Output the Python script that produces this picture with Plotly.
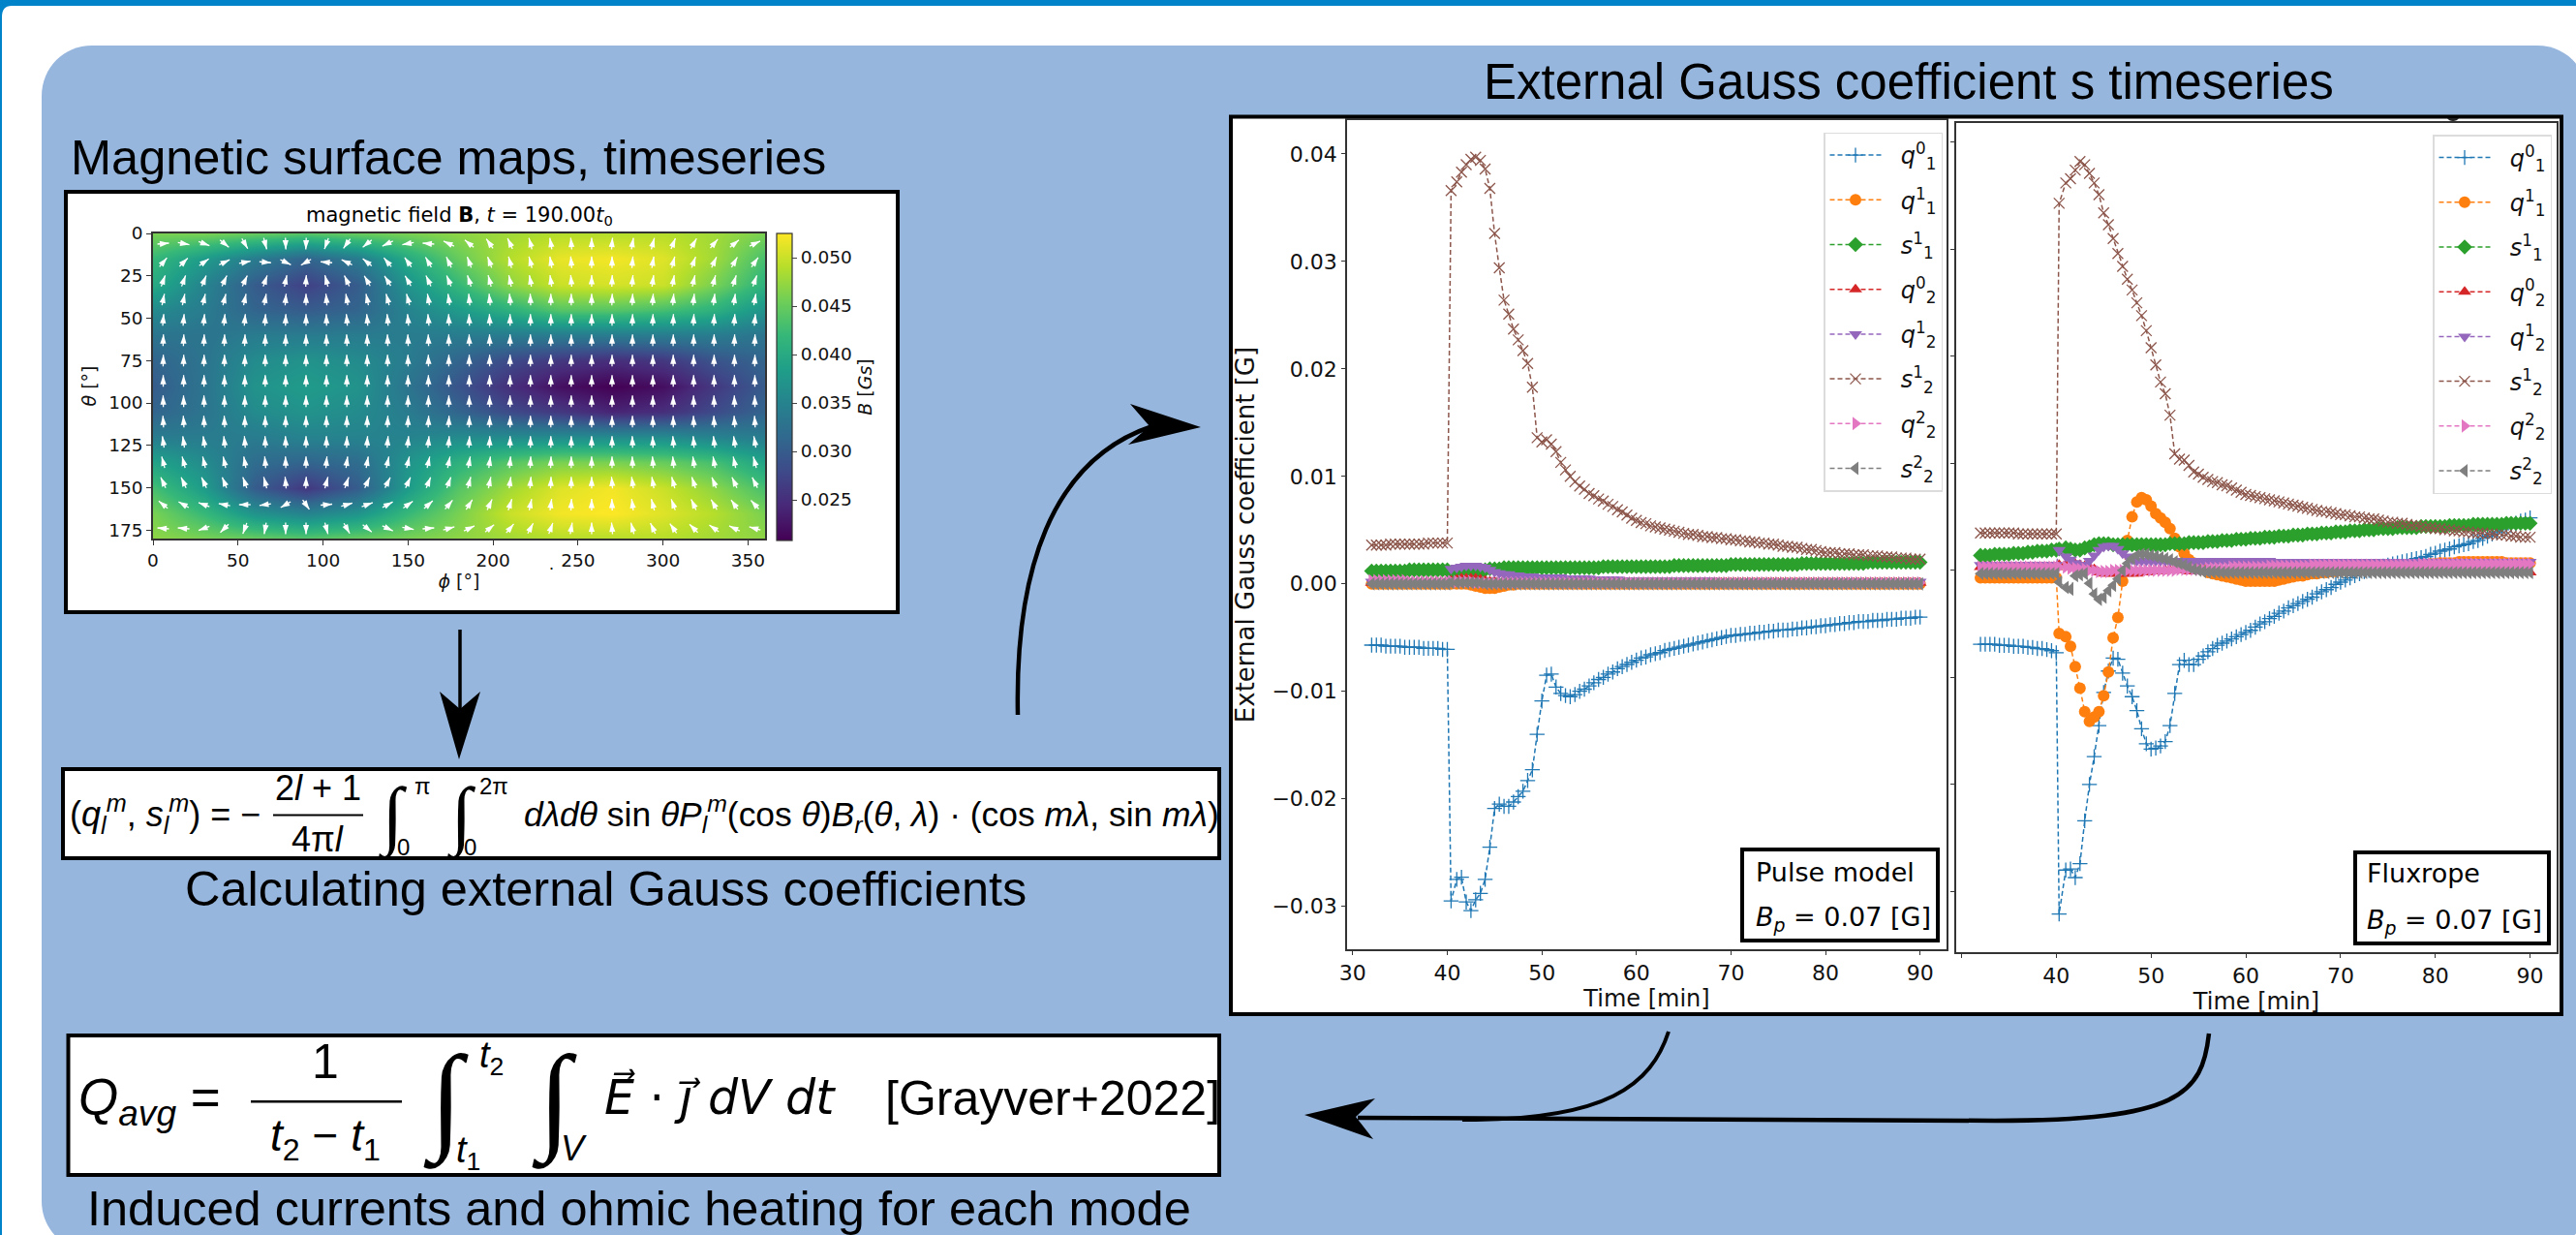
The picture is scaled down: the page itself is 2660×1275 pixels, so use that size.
import math, re
import numpy as np
import plotly.graph_objects as go

W, H = 2660, 1275

# ---------- surface map values (B in Gs) ----------
map_phi = [0, 30, 60, 90, 120, 150, 180, 210, 240, 270, 300, 330, 360]
map_theta = [0, 15, 30, 45, 60, 75, 90, 105, 120, 135, 150, 165, 180]
map_B = [
    [.046, .046, .045, .044, .045, .046, .047, .048, .049, .049, .049, .048, .046],
    [.042, .038, .034, .031, .034, .040, .045, .049, .0515, .052, .051, .048, .043],
    [.040, .035, .030, .027, .030, .037, .042, .047, .050, .0505, .050, .046, .041],
    [.036, .034, .031, .030, .031, .035, .038, .041, .044, .044, .043, .041, .037],
    [.033, .033, .034, .034, .034, .034, .034, .034, .034, .034, .034, .034, .033],
    [.031, .033, .036, .037, .036, .034, .031, .028, .026, .025, .026, .029, .031],
    [.030, .033, .037, .038, .037, .033, .029, .025, .022, .0208, .022, .026, .030],
    [.031, .033, .036, .037, .036, .034, .031, .028, .026, .024, .025, .028, .031],
    [.034, .034, .034, .035, .035, .035, .036, .036, .036, .036, .036, .035, .034],
    [.039, .036, .032, .031, .032, .037, .041, .044, .046, .046, .045, .043, .039],
    [.043, .038, .030, .026, .030, .038, .044, .048, .051, .052, .050, .047, .043],
    [.046, .042, .037, .035, .037, .042, .046, .050, .052, .0525, .051, .049, .046],
    [.047, .046, .045, .044, .045, .046, .047, .048, .049, .049, .049, .048, .047],
]
arrow_phi = [6, 18, 30, 42, 54, 66, 78, 90, 102, 114, 126, 138, 150, 162, 174,
             186, 198, 210, 222, 234, 246, 258, 270, 282, 294, 306, 318, 330, 342, 354]
arrow_theta = [6, 17, 28, 39, 51, 63, 75, 87, 99, 111, 123, 135, 147, 160, 174]
# arrow heading, degrees clockwise from "up", one row per theta
arrow_angle = [
    [85, 100, 110, 130, 150, 165, 178, 182, 200, 215, 230, 245, 260, 275, 295, 310, 325, 335, 345, 350, 355, 0, 5, 10, 15, 22, 30, 40, 50, 65],
    [40, 45, 55, 65, 80, 95, 115, 240, 275, 295, 310, 320, 325, 330, 335, 340, 340, 345, 345, 350, 355, 0, 0, 5, 10, 15, 20, 25, 30, 35],
    [20, 20, 22, 25, 25, 20, 12, 3, 345, 335, 330, 328, 330, 335, 338, 342, 345, 348, 350, 352, 355, 0, 2, 5, 8, 10, 13, 15, 18, 20],
    [12, 12, 13, 14, 12, 10, 5, 0, 355, 350, 348, 345, 345, 350, 352, 355, 355, 355, 358, 0, 0, 0, 2, 3, 4, 5, 6, 7, 8, 10],
    [5, 5, 5, 5, 5, 3, 2, 0, 358, 355, 355, 355, 355, 355, 358, 358, 358, 0, 0, 0, 0, 0, 0, 2, 2, 2, 3, 3, 4, 5],
    [2, 2, 2, 2, 2, 1, 1, 0, 359, 358, 358, 358, 358, 358, 359, 359, 359, 0, 0, 0, 0, 0, 0, 1, 1, 1, 1, 1, 2, 2],
    [1, 1, 1, 1, 1, 0, 0, 0, 0, 359, 359, 359, 359, 359, 0, 0, 0, 0, 0, 0, 0, 0, 0, 0, 0, 0, 1, 1, 1, 1],
    [0, 0, 0, 0, 0, 0, 0, 0, 0, 0, 0, 0, 0, 0, 0, 0, 0, 0, 0, 0, 0, 0, 0, 0, 0, 0, 0, 0, 0, 0],
    [359, 359, 359, 0, 0, 0, 0, 0, 0, 0, 0, 1, 1, 1, 0, 0, 0, 0, 0, 0, 0, 0, 0, 0, 0, 0, 359, 359, 359, 359],
    [357, 357, 358, 358, 359, 359, 0, 0, 0, 1, 1, 2, 2, 2, 2, 1, 1, 0, 0, 0, 0, 0, 0, 0, 359, 359, 358, 358, 357, 357],
    [352, 352, 352, 354, 356, 358, 358, 0, 0, 2, 3, 4, 5, 5, 4, 3, 2, 0, 0, 0, 0, 0, 0, 358, 358, 356, 356, 354, 352, 350],
    [345, 345, 347, 348, 350, 355, 358, 0, 5, 8, 10, 12, 13, 13, 12, 10, 8, 5, 3, 2, 0, 0, 0, 358, 356, 355, 352, 350, 348, 345],
    [335, 335, 335, 338, 340, 345, 355, 2, 15, 20, 25, 27, 25, 22, 20, 15, 12, 8, 5, 2, 0, 0, 355, 352, 350, 345, 342, 338, 335, 333],
    [310, 300, 290, 280, 270, 262, 240, 145, 85, 75, 70, 62, 55, 48, 40, 32, 25, 18, 12, 8, 3, 0, 358, 352, 345, 340, 335, 330, 325, 318],
    [275, 275, 250, 225, 200, 190, 180, 180, 165, 150, 130, 115, 100, 85, 75, 65, 50, 40, 28, 20, 10, 0, 355, 345, 335, 325, 315, 305, 295, 285],
]

# ---------- Gauss coefficient series, values in 10^-3 G ----------
series_names = ["q10", "q11", "s11", "q20", "q21", "s21", "q22", "s22"]
series_labels = ["<i>q</i><sup>0</sup><sub>1</sub>", "<i>q</i><sup>1</sup><sub>1</sub>", "<i>s</i><sup>1</sup><sub>1</sub>",
                 "<i>q</i><sup>0</sup><sub>2</sub>", "<i>q</i><sup>1</sup><sub>2</sub>", "<i>s</i><sup>1</sup><sub>2</sub>",
                 "<i>q</i><sup>2</sup><sub>2</sub>", "<i>s</i><sup>2</sup><sub>2</sub>"]
series_colors = ["#1f77b4", "#ff7f0e", "#2ca02c", "#d62728", "#9467bd", "#8c564b", "#e377c2", "#7f7f7f"]
series_symbols = ["cross-thin", "circle", "diamond", "triangle-up", "triangle-down", "x-thin", "triangle-right", "triangle-left"]
series_sizes = [11, 12, 12, 12, 12, 11, 12, 12]

time_left = [32 + 0.5 * i for i in range(117)]
time_left[17] = 40.4
time_right = [32 + 0.5 * i for i in range(117)]
time_right[17] = 40.3

pulse_q10 = [-5.7,-5.7,-5.7,-5.8,-5.8,-5.8,-5.8,-5.9,-5.9,-5.9,-5.9,-6.0,-6.0,-6.0,-6.0,-6.1,-6.1,
    -29.5,-27.5,-27.3,-29.6,-30.4,-29.4,-28.8,-27.5,-24.5,-20.9,-20.5,-20.7,-20.7,-20.3,-19.8,-19.3,-18.3,-17.3,-14.0,
    -10.9,-8.5,-8.4,-9.6,-10.2,-10.4,-10.5,-10.3,-10.0,-9.8,-9.5,-9.2,-8.9,-8.7,-8.4,-8.2,-7.9,-7.7,-7.5,-7.3,-7.1,
    -6.9,-6.8,-6.6,-6.5,-6.4,-6.2,-6.1,-6.0,-5.9,-5.8,-5.7,-5.6,-5.5,-5.4,-5.3,-5.2,-5.1,-5.0,-4.9,-4.8,
    -4.8,-4.7,-4.7,-4.6,-4.6,-4.5,-4.5,-4.4,-4.4,-4.3,-4.3,-4.3,-4.2,-4.2,-4.1,-4.1,-4.0,-4.0,-3.9,-3.9,
    -3.8,-3.8,-3.7,-3.7,-3.6,-3.6,-3.5,-3.5,-3.5,-3.4,-3.4,-3.4,-3.3,-3.3,-3.3,-3.2,-3.2,-3.2,-3.1,-3.1]
pulse_q11 = [0,0,0,0,0,0,0,0,0,0,0,0,0,0,0,0,0,
    0,0,0,0,-.1,-.2,-.3,-.4,-.4,-.4,-.3,-.2,-.1,-.1,0,0,0,0,0,
    0,0,0,0,0,0,0,0,0,0,0,0,0,0,0,0,0,0,0,0,0,
    0,0,0,0,0,0,0,0,0,0,0,0,0,0,0,0,0,0,0,0,
    0,0,0,0,0,0,0,0,0,0,0,0,0,0,0,0,0,0,0,0,
    0,0,0,0,0,0,0,0,0,0,0,0,0,0,0,0,0,0,0,0]
pulse_s11 = [1.2,1.2,1.2,1.2,1.2,1.2,1.2,1.2,1.3,1.3,1.3,1.3,1.3,1.3,1.3,1.3,1.3,
    1.0,1.0,1.0,1.0,1.0,1.0,1.1,1.3,1.4,1.4,1.4,1.5,1.5,1.5,1.5,1.5,1.5,1.5,1.5,
    1.5,1.5,1.5,1.5,1.5,1.5,1.5,1.5,1.5,1.5,1.5,1.5,1.5,1.6,1.6,1.6,1.6,1.6,1.6,1.6,1.6,
    1.6,1.6,1.6,1.6,1.6,1.6,1.6,1.7,1.7,1.7,1.7,1.7,1.7,1.7,1.7,1.7,1.7,1.7,1.7,1.8,
    1.8,1.8,1.8,1.8,1.8,1.8,1.8,1.8,1.8,1.8,1.8,1.8,1.8,1.8,1.9,1.9,1.9,1.9,1.9,1.9,
    1.9,1.9,1.9,1.9,1.9,1.9,1.9,1.9,2.0,2.0,2.0,2.0,2.0,2.0,2.0,2.0,2.0,2.0,2.0,2.0]
pulse_q20 = [.1,.1,.1,.1,.1,.1,.1,.1,.1,.1,.1,.1,.1,.1,.1,.1,.1,
    .3,.4,.5,.5,.5,.5,.4,.3,.2,.2,.1,.1,.1,.1,.1,.1,.1,.1,.1,
    .1,.1,.1,.1,.1,.1,.1,.1,.1,.1,.1,.1,.1,.1,.1,.1,.1,.1,.1,.1,.1,
    .1,.1,.1,.1,.1,.1,.1,.1,.1,.1,.1,.1,.1,.1,.1,.1,.1,.1,.1,.1,
    .1,.1,.1,.1,.1,.1,.1,.1,.1,.1,.1,.1,.1,.1,.1,.1,.1,.1,.1,.1,
    .1,.1,.1,.1,.1,.1,.1,.1,.1,.1,.1,.1,.1,.1,.1,.1,.1,.1,.1,.1]
pulse_q21 = [.2,.2,.2,.2,.2,.2,.2,.2,.2,.2,.2,.2,.2,.2,.2,.2,.2,
    1.4,1.5,1.6,1.7,1.7,1.7,1.6,1.5,1.3,1.1,1.0,.9,.9,.8,.8,.7,.7,.7,.6,
    .6,.6,.6,.6,.6,.5,.5,.5,.5,.5,.5,.4,.4,.4,.4,.4,.4,.3,.3,.3,.3,
    .3,.3,.3,.3,.3,.3,.3,.3,.3,.3,.3,.3,.3,.3,.3,.3,.2,.2,.2,.2,
    .2,.2,.2,.2,.2,.2,.2,.2,.2,.2,.2,.2,.2,.2,.2,.2,.2,.2,.2,.2,
    .2,.2,.2,.2,.2,.2,.2,.2,.2,.2,.2,.2,.2,.2,.2,.2,.2,.2,.2,.2]
pulse_s21 = [3.6,3.6,3.6,3.6,3.7,3.7,3.7,3.7,3.7,3.7,3.7,3.7,3.8,3.8,3.8,3.8,3.8,
    36.6,37.4,38.3,39.0,39.5,39.7,39.4,38.6,36.8,32.6,29.4,26.4,25.1,23.7,22.7,21.7,20.5,18.3,13.6,
    13.2,13.4,13.0,12.3,11.3,10.6,10.0,9.5,9.1,8.8,8.4,8.2,7.9,7.7,7.4,7.2,6.9,6.7,6.4,6.1,5.9,
    5.7,5.6,5.4,5.3,5.2,5.1,5.0,4.9,4.8,4.7,4.6,4.6,4.5,4.4,4.4,4.3,4.3,4.2,4.2,4.1,
    4.1,4.0,4.0,3.9,3.9,3.8,3.8,3.7,3.7,3.6,3.5,3.5,3.4,3.4,3.3,3.2,3.2,3.1,3.0,2.9,
    2.9,2.9,2.8,2.8,2.8,2.7,2.7,2.7,2.6,2.6,2.6,2.5,2.5,2.5,2.4,2.4,2.4,2.3,2.3,2.3]
pulse_q22 = [.3,.3,.3,.3,.3,.3,.3,.3,.2,.2,.2,.2,.2,.2,.2,.2,.2,
    .2,.2,.2,.2,.2,.1,.1,.1,.1,.1,.1,.1,.1,.1,.1,.1,.1,.1,.1,
    .1,.1,.1,.1,.1,.1,.1,.1,.1,.1,.1,.1,.1,.1,.1,.1,.1,.1,.1,.1,.1,
    .1,.1,.1,.1,.1,.1,.1,.1,.1,.1,.1,.1,.1,.1,.1,.1,.1,.1,.1,.1,
    .1,.1,.1,.1,.1,.1,.1,.1,.1,.1,.1,.1,.1,.1,.1,.1,.1,.1,.1,.1,
    .1,.1,.1,.1,.1,.1,.1,.1,.1,.1,.1,.1,.1,.1,.1,.1,.1,.1,.1,.1]
pulse_s22 = [0,0,0,0,0,0,0,0,0,0,0,0,0,0,0,0,0,
    .1,.1,.1,.1,.1,.1,.1,0,0,0,0,0,0,0,0,0,0,0,0,
    0,0,0,0,0,0,0,0,0,0,0,0,0,0,0,0,0,0,0,0,0,
    0,0,0,0,0,0,0,0,0,0,0,0,0,0,0,0,0,0,0,0,
    0,0,0,0,0,0,0,0,0,0,0,0,0,0,0,0,0,0,0,0,
    0,0,0,0,0,0,0,0,0,0,0,0,0,0,0,0,0,0,0,0]

rope_q10 = [-6.9,-6.9,-6.9,-6.9,-7.0,-7.0,-7.0,-7.1,-7.1,-7.1,-7.2,-7.2,-7.3,-7.3,-7.4,-7.5,-7.7,
    -32.1,-28.0,-27.9,-28.7,-27.4,-23.4,-20.0,-17.4,-14.5,-11.4,-9.4,-8.2,-8.3,-9.6,-10.8,-11.8,-13.1,-14.8,-16.2,
    -16.7,-16.6,-16.4,-16.0,-14.5,-11.5,-8.8,-8.4,-8.8,-8.8,-8.3,-8.0,-7.6,-7.3,-7.0,-6.8,-6.6,-6.4,-6.2,-6.0,-5.8,
    -5.6,-5.3,-5.0,-4.8,-4.5,-4.3,-4.0,-3.8,-3.5,-3.3,-3.1,-2.9,-2.7,-2.5,-2.2,-2.0,-1.8,-1.6,-1.3,-1.1,
    -0.9,-0.7,-0.5,-0.3,-0.1,0.0,0.2,0.3,0.4,0.5,0.6,0.7,0.8,0.9,1.0,1.1,1.2,1.3,1.5,1.6,
    1.8,1.9,2.0,2.2,2.3,2.4,2.5,2.7,2.8,3.0,3.2,3.4,3.6,3.8,4.0,4.2,4.4,4.6,4.7,4.9]
rope_q11 = [-.7,-.7,-.7,-.7,-.7,-.7,-.7,-.7,-.7,-.7,-.7,-.7,-.7,-.7,-.7,-.7,-.7,
    -5.9,-6.2,-7.1,-9.0,-11.0,-13.2,-14.1,-13.7,-13.2,-11.7,-9.5,-6.3,-4.4,-1.0,2.8,5.0,6.4,6.8,6.6,
    6.0,5.3,4.9,4.5,3.9,3.0,2.2,1.6,1.0,.7,.3,.1,-.2,-.3,-.4,-.5,-.6,-.7,-.8,-.9,-1.0,
    -1.0,-1.0,-1.0,-1.0,-1.0,-1.0,-.9,-.8,-.7,-.6,-.5,-.5,-.4,-.3,-.3,-.2,-.2,-.1,-.1,0,
    0,.1,.1,.2,.2,.2,.2,.3,.3,.3,.3,.3,.4,.4,.4,.5,.5,.5,.6,.6,
    .7,.7,.7,.7,.8,.8,.8,.8,.8,.8,.8,.8,.8,.8,.7,.7,.7,.7,.7,.7]
rope_s11 = [1.4,1.4,1.4,1.5,1.5,1.5,1.5,1.6,1.6,1.6,1.7,1.7,1.8,1.8,1.8,1.9,1.9,
    2.0,2.1,2.0,1.9,1.9,2.1,2.2,2.4,2.5,2.5,2.5,2.4,2.4,2.4,2.4,2.4,2.4,2.4,2.4,
    2.4,2.4,2.4,2.4,2.5,2.5,2.5,2.5,2.6,2.6,2.6,2.6,2.7,2.7,2.7,2.8,2.8,2.8,2.9,2.9,2.9,
    3.0,3.0,3.0,3.1,3.1,3.1,3.2,3.2,3.2,3.3,3.3,3.3,3.4,3.4,3.4,3.5,3.5,3.5,3.6,3.6,
    3.6,3.7,3.7,3.7,3.8,3.8,3.8,3.9,3.9,3.9,3.9,4.0,4.0,4.0,4.0,4.0,4.1,4.1,4.1,4.1,
    4.1,4.1,4.2,4.2,4.2,4.2,4.2,4.3,4.3,4.3,4.3,4.3,4.3,4.3,4.4,4.4,4.4,4.4,4.4,4.4]
rope_q20 = [.3,.3,.3,.3,.3,.3,.3,.3,.3,.3,.3,.3,.3,.3,.3,.3,.3,
    .5,.5,.5,.6,.5,.4,.3,.1,-.2,-.3,-.3,-.3,-.3,-.3,-.3,-.3,-.3,-.2,-.2,
    -.1,-.1,-.1,0,0,0,0,0,-.1,-.1,-.1,-.1,-.1,-.1,-.1,-.1,-.1,-.1,-.2,-.2,-.2,
    -.2,-.2,-.2,-.2,-.2,-.2,-.2,-.2,-.2,-.2,-.2,-.2,-.2,-.2,-.2,-.2,-.2,-.2,-.2,-.2,
    -.2,-.2,-.2,-.2,-.2,-.2,-.2,-.2,-.2,-.2,-.2,-.2,-.2,-.2,-.2,-.2,-.2,-.2,-.2,-.2,
    -.2,-.2,-.2,-.2,-.2,-.2,-.2,-.2,-.2,-.2,-.2,-.2,-.2,-.2,-.2,-.2,-.2,-.2,-.2,-.2]
rope_q21 = [.5,.5,.5,.5,.5,.5,.5,.5,.5,.5,.5,.5,.5,.5,.5,.5,.5,
    1.9,1.3,1.0,.7,.5,.5,.9,1.4,1.9,2.2,2.3,2.3,2.0,1.6,1.3,1.0,.9,.9,.9,
    .9,.9,.9,.9,.9,.9,.9,.9,.9,.9,.9,.9,.9,.9,.9,.9,.9,.9,.9,.9,.9,
    .9,.9,.9,.9,.9,.8,.8,.8,.8,.8,.8,.8,.8,.8,.8,.8,.8,.8,.8,.8,
    .8,.8,.8,.8,.8,.8,.8,.8,.8,.8,.8,.8,.8,.8,.8,.8,.8,.8,.8,.8,
    .8,.8,.8,.8,.8,.8,.8,.8,.8,.8,.8,.8,.8,.8,.8,.8,.8,.8,.8,.8]
rope_s21 = [3.5,3.5,3.5,3.5,3.5,3.5,3.5,3.5,3.4,3.4,3.4,3.4,3.4,3.4,3.4,3.4,3.4,
    34.3,36.2,36.6,37.4,38.2,37.9,37.1,36.2,35.1,33.4,32.3,31.0,29.6,28.4,27.2,26.2,25.0,23.8,22.4,
    20.8,19.2,17.6,16.5,14.5,10.9,10.4,10.3,9.8,9.2,9.0,8.7,8.5,8.3,8.2,8.0,7.9,7.7,7.5,7.3,7.1,
    7.0,6.9,6.8,6.7,6.6,6.5,6.4,6.3,6.2,6.1,6.0,5.9,5.8,5.7,5.6,5.5,5.5,5.4,5.3,5.2,
    5.2,5.1,5.0,5.0,4.9,4.8,4.8,4.7,4.6,4.5,4.5,4.4,4.4,4.3,4.2,4.2,4.1,4.0,4.0,3.9,
    3.9,3.8,3.8,3.7,3.7,3.6,3.6,3.5,3.5,3.5,3.4,3.4,3.3,3.3,3.3,3.2,3.2,3.1,3.1,3.1]
rope_q22 = [.3,.3,.3,.3,.3,.3,.3,.3,.3,.3,.3,.3,.3,.3,.3,.3,.3,
    .3,.3,.2,.2,.1,.1,0,0,-.1,-.1,-.1,0,0,0,0,0,0,0,0,
    0,0,0,0,0,0,.1,.1,.1,.1,.1,.1,.2,.2,.2,.2,.2,.3,.3,.3,.3,
    .3,.3,.3,.3,.4,.4,.4,.4,.4,.4,.4,.4,.4,.5,.5,.5,.5,.5,.5,.5,
    .5,.5,.5,.5,.5,.5,.5,.5,.5,.5,.5,.5,.5,.5,.5,.5,.6,.6,.6,.6,
    .6,.6,.6,.6,.6,.6,.6,.6,.6,.6,.6,.6,.6,.6,.6,.6,.6,.6,.6,.6]
rope_s22 = [-.3,-.3,-.3,-.3,-.3,-.3,-.3,-.3,-.3,-.3,-.3,-.3,-.3,-.3,-.3,-.3,-.3,
    -1.1,-1.6,-1.75,-.5,-.4,-.3,-1.2,-2.2,-2.7,-2.5,-1.9,-1.4,-.8,0,.65,1.1,1.4,1.5,1.5,
    1.4,1.3,1.2,1.1,1.0,.8,.65,.5,.3,.1,0,-.1,-.15,-.15,-.15,-.2,-.2,-.2,-.2,-.2,-.2,
    -.2,-.2,-.2,-.2,-.2,-.2,-.2,-.2,-.2,-.2,-.2,-.2,-.2,-.2,-.2,-.2,-.2,-.2,-.2,-.2,
    -.2,-.2,-.2,-.2,-.2,-.2,-.2,-.2,-.2,-.2,-.2,-.2,-.2,-.2,-.2,-.2,-.2,-.2,-.2,-.2,
    -.2,-.2,-.2,-.2,-.2,-.2,-.2,-.2,-.2,-.2,-.2,-.2,-.2,-.2,-.2,-.2,-.2,-.2,-.2,-.2]

pulse = [pulse_q10, pulse_q11, pulse_s11, pulse_q20, pulse_q21, pulse_s21, pulse_q22, pulse_s22]
rope = [rope_q10, rope_q11, rope_s11, rope_q20, rope_q21, rope_s21, rope_q22, rope_s22]

# ---------- styling ----------
PANEL = "#97B6DD"
BLUE = "#0083C9"
SANS = "Liberation Sans"
SERIF = "Liberation Serif"
DJ = "DejaVu Sans"
INK = "#111111"


def fx(x):
    return x / W


def fy(y):
    return 1 - y / H


def P(s):
    """Path given in page pixels -> paper fractions."""
    out, i = [], 0
    for tok in re.findall(r"[A-Za-z]|-?[\d.]+", s):
        if tok.isalpha():
            out.append(tok)
        else:
            out.append(f"{fx(float(tok)) if i % 2 == 0 else fy(float(tok)):.6f}")
            i += 1
    txt = ""
    for tok in out:
        txt += tok if tok.isalpha() else tok + " "
    return txt


shapes = []


def path(s, fill=None, line="black", width=0, layer="below"):
    shapes.append(dict(type="path", xref="paper", yref="paper", path=P(s), fillcolor=fill or "rgba(0,0,0,0)",
                       line=dict(color=line, width=width), layer=layer))


def box(x0, y0, x1, y1, fill="white", line="black", width=4, layer="below"):
    shapes.append(dict(type="rect", xref="paper", yref="paper", x0=fx(x0), x1=fx(x1), y0=fy(y0), y1=fy(y1),
                       fillcolor=fill, line=dict(color=line, width=width), layer=layer))


annots = []


def T(text, x, y, size, anchor="left", family=SANS, color="black", rot=0):
    annots.append(dict(text=text, x=fx(x), y=fy(y), xref="paper", yref="paper", xanchor=anchor, yanchor="middle",
                       showarrow=False, font=dict(size=size, family=family, color=color), textangle=rot))


# page furniture
shapes.append(dict(type="rect", xref="paper", yref="paper", x0=0, x1=1, y0=fy(6), y1=1, fillcolor=BLUE,
                   line=dict(width=0), layer="below"))
path("M0 6 L12 6 C5 6 2 10 2 18 L2 1275 L0 1275 Z", fill=BLUE)
path("M43 99 C43 70 66 47 95 47 L2620 47 C2649 47 2672 70 2672 99 L2672 1240 C2672 1269 2649 1292 2620 1292 "
     "L95 1292 C66 1292 43 1269 43 1240 Z", fill=PANEL)

# white frames
box(68, 198, 927, 632)
box(65, 794, 1259, 886)
box(70.5, 1069, 1259, 1213)
box(1271, 120.5, 2645, 1047)

# boxed labels inside the plots
box(1799, 877, 2001, 971, width=4)
box(2432, 880, 2632, 974, width=4)
path("M2527 122 C2529 126 2537 126 2539 122 Z", fill="#222")

# arrows
path("M475 650 L475 735", line="black", width=3.5)
path("M454 714 L475 732 L496 714 L474 784 Z", fill="black")
path("M1051 738 C1048 590 1085 475 1190 440", line="black", width=4.5)
path("M1240 441 L1167 417 L1187 440 L1165 459 Z", fill="black")
path("M2281 1067 C2274 1130 2250 1157 2060 1157 L1402 1154", line="black", width=4.5)
path("M1723 1065 C1705 1120 1660 1157 1510 1156", line="black", width=4)
path("M1347 1151 L1420 1134 L1400 1153 L1418 1176 Z", fill="black")

# headings
T("Magnetic surface maps, timeseries", 71, 162, 50.5)
T("External Gauss coefficient s timeseries", 1971, 85, 51, anchor="center")
T("Calculating external Gauss coefficients", 625, 917, 50.5, anchor="center")
T("Induced currents and ohmic heating for each mode", 660, 1247, 50.5, anchor="center")
T(".", 569, 582, 18, anchor="center")

# equation 1
EQ = SANS
T("(<i>q</i><sub><i>l</i></sub><sup><i>m</i></sup>, <i>s</i><sub><i>l</i></sub><sup><i>m</i></sup>) = −", 70, 840, 36, family=EQ)
T("2<i>l</i> + 1", 328, 813, 36, anchor="center", family=EQ)
box(282, 840.5, 375, 842.5, fill="black", width=0)
T("4π<i>l</i>", 328, 866, 36, anchor="center", family=EQ)
T("∫", 405, 842, 78, anchor="center", family=SERIF)
T("π", 436, 811, 24, anchor="center", family=EQ)
T("0", 416, 874, 24, anchor="center", family=EQ)
T("∫", 476, 842, 78, anchor="center", family=SERIF)
T("2π", 510, 811, 24, anchor="center", family=EQ)
T("0", 485, 874, 24, anchor="center", family=EQ)
T("<i>dλdθ</i> sin <i>θP</i><sub><i>l</i></sub><sup><i>m</i></sup>(cos <i>θ</i>)<i>B</i><sub><i>r</i></sub>(<i>θ</i>, <i>λ</i>) · (cos <i>mλ</i>, sin <i>mλ</i>)",
  539, 840, 35.4, family=EQ)

# equation 2
T("<i>Q</i><sub><i>avg</i></sub> =", 79, 1136, 53, family=EQ)
T("1", 336, 1096, 50, anchor="center", family=EQ)
box(259, 1136, 415, 1138.5, fill="black", width=0)
T("<i>t</i><sub>2</sub> − <i>t</i><sub>1</sub>", 336, 1175, 46, anchor="center", family=EQ)
T("∫", 460, 1136, 122, anchor="center", family=SERIF)
T("<i>t</i><sub>2</sub>", 507, 1092, 38, anchor="center", family=EQ)
T("<i>t</i><sub>1</sub>", 483, 1190, 38, anchor="center", family=EQ)
T("∫", 572, 1136, 122, anchor="center", family=SERIF)
T("<i>V</i>", 592, 1185, 36, anchor="center", family=EQ)
T("<i>E⃗</i> · <i>j⃗</i> <i>dV dt</i>", 622, 1132, 49, family=DJ)
T("[Grayver+2022]", 912, 1134, 50, family=EQ)

# inset captions
T("Pulse model", 1811, 900, 27, family=DJ)
T("<i>B<sub>p</sub></i> = 0.07 [G]", 1811, 948, 27, family=DJ)
T("Fluxrope", 2442, 901, 27, family=DJ)
T("<i>B<sub>p</sub></i> = 0.07 [G]", 2442, 951, 27, family=DJ)

# map title & labels
T("magnetic field <b>B</b>, <i>t</i> = 190.00<i>t</i><sub>0</sub>", 474, 223, 21, anchor="center", family=DJ)

# ---------- traces ----------
fig = go.Figure()
fig.add_trace(go.Heatmap(
    x=map_phi, y=map_theta, z=map_B, colorscale="Viridis", zmin=0.0208, zmax=0.0525, zsmooth="best",
    xaxis="x", yaxis="y", showlegend=False, name="B",
    colorbar=dict(x=fx(802), xanchor="left", y=fy(241), yanchor="top", len=317 / H, thickness=16, thicknessmode="pixels",
                  lenmode="fraction", xpad=0, ypad=0, outlinewidth=1.2, outlinecolor="#333", tickvals=[.025, .03, .035, .04, .045, .05],
                  tickformat=".3f", ticks="outside", ticklen=5, tickfont=dict(size=18.5, family=DJ, color=INK),
                  title=dict(text="<i>B</i> [<i>Gs</i>]", side="right", font=dict(size=19, family=DJ, color=INK)))))

# quiver arrows, built from the heading table
SX, SY = 632 / 360, 315 / 180
HALF = 6
lx, ly, tx, ty, ta = [], [], [], [], []
for th, row in zip(arrow_theta, arrow_angle):
    for ph, a in zip(arrow_phi, row):
        dx = math.sin(math.radians(a)) * HALF / SX
        dy = -math.cos(math.radians(a)) * HALF / SY
        lx += [ph - dx, ph + dx, None]
        ly += [th - dy, th + dy, None]
        tx.append(ph + dx)
        ty.append(th + dy)
        ta.append(a)
fig.add_trace(go.Scatter(x=lx, y=ly, mode="lines", line=dict(color="white", width=1.3), showlegend=False, xaxis="x", yaxis="y", hoverinfo="skip"))
fig.add_trace(go.Scatter(x=tx, y=ty, mode="markers", showlegend=False, xaxis="x", yaxis="y", hoverinfo="skip",
                         marker=dict(symbol="arrow", size=10, angle=ta, color="white", line=dict(width=0))))


def add_series(times, data, xa, ya, legend):
    for name, lab, col, sym, size, vals in zip(series_names, series_labels, series_colors, series_symbols, series_sizes, data):
        thin = sym.endswith("-thin")
        fig.add_trace(go.Scatter(
            x=times, y=[v / 1000 for v in vals], mode="lines+markers", name="\u00a0\u00a0" + lab, legend=legend, legendgroup=legend + name,
            xaxis=xa, yaxis=ya, line=dict(color=col, width=1.5, dash="5px,3px"),
            marker=dict(symbol=sym, color=col, size=size,
                        line=dict(color=col, width=1.3 if thin else 0))))


add_series(time_left, pulse, "x2", "y2", "legend")
add_series(time_right, rope, "x3", "y3", "legend2")


def dom(a, b, total):
    return [a / total, b / total]


AX = dict(showgrid=False, zeroline=False, showline=True, mirror=True, linecolor="#333", linewidth=1.5,
          ticks="outside", ticklen=4, tickwidth=1.2, tickcolor="#333", tickfont=dict(size=22, family=DJ, color=INK))
MAP = dict(AX, tickfont=dict(size=18.5, family=DJ, color=INK), ticklen=5)
LEG = dict(bgcolor="rgba(255,255,255,0.85)", bordercolor="#dcdcdc", borderwidth=1.5, xanchor="left", yanchor="top",
           font=dict(size=24, family=DJ, color=INK), itemwidth=53, tracegroupgap=12, traceorder="grouped",
           itemsizing="trace", entrywidth=52, entrywidthmode="pixels")

fig.update_layout(
    autosize=True, margin=dict(l=0, r=0, t=0, b=0, autoexpand=False), paper_bgcolor="white", plot_bgcolor="rgba(0,0,0,0)",
    font=dict(color=INK), shapes=shapes, annotations=annots, hovermode=False,
    xaxis=dict(MAP, domain=dom(158, 790, W), range=[0, 360], tickvals=[0, 50, 100, 150, 200, 250, 300, 350],
               title=dict(text="<i>ϕ</i> [°]", font=dict(size=19, family=DJ, color=INK), standoff=6)),
    yaxis=dict(MAP, domain=[1 - 556 / H, 1 - 241 / H], range=[180, 0], tickvals=list(range(0, 200, 25)),
               title=dict(text="<i>θ</i> [°]", font=dict(size=19, family=DJ, color=INK), standoff=8)),
    xaxis2=dict(AX, domain=dom(1391, 2010, W), range=[29.4, 92.8], tickvals=[30, 40, 50, 60, 70, 80, 90], anchor="y2",
                title=dict(text="Time [min]", font=dict(size=24, family=DJ, color=INK), standoff=4)),
    yaxis2=dict(AX, domain=[1 - 980 / H, 1 - 124 / H], range=[-0.0340, 0.04315], anchor="x2",
                tickvals=[-.03, -.02, -.01, 0, .01, .02, .03, .04], tickformat=".2f",
                title=dict(text="External Gauss coefficient [G]", font=dict(size=26, family=DJ, color=INK), standoff=10)),
    xaxis3=dict(AX, domain=dom(2020, 2640, W), range=[29.44, 92.8], tickvals=[30, 40, 50, 60, 70, 80, 90],
                ticktext=["", "40", "50", "60", "70", "80", "90"], anchor="y3",
                title=dict(text="Time [min]", font=dict(size=24, family=DJ, color=INK), standoff=4)),
    yaxis3=dict(AX, domain=[1 - 983 / H, 1 - 127 / H], range=[-0.03567, 0.0418], anchor="x3",
                tickvals=[-.03, -.02, -.01, 0, .01, .02, .03, .04], showticklabels=False),
    legend=dict(LEG, x=fx(1883), y=fy(136.5)),
    legend2=dict(LEG, x=fx(2512), y=fy(139)),
    showlegend=True,
)

fig.write_html("out.html", config=dict(displayModeBar=False, responsive=True),
               default_width="2660px; position:absolute; left:0; top:0", default_height="1275px")
